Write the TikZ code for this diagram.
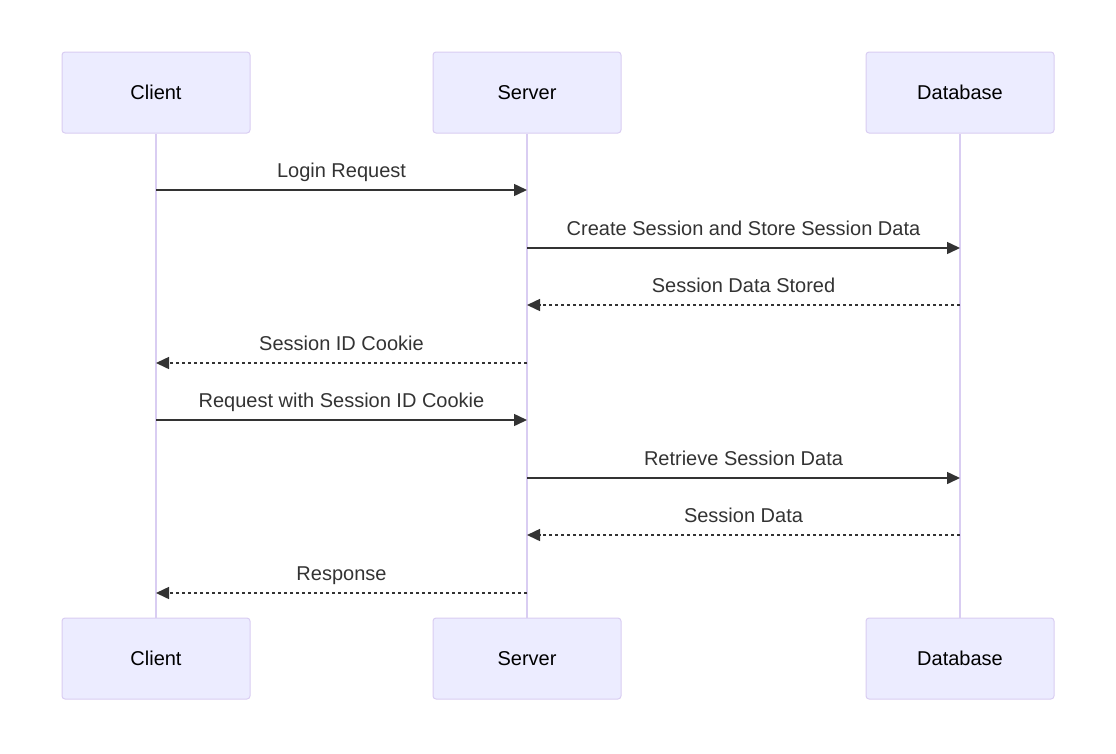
\documentclass[tikz,border=0pt]{standalone}
\usepackage{fontspec}
\setmainfont{Liberation Sans}
\usetikzlibrary{arrows.meta}
\definecolor{actfill}{HTML}{ECECFF}
\definecolor{actline}{HTML}{D9CDF2}
\definecolor{msg}{HTML}{333333}
\begin{document}
\begin{tikzpicture}[x=1pt,y=-1pt,
  actor/.style={draw=actline,fill=actfill,line width=1pt,rounded corners=3pt,minimum width=188pt,minimum height=81pt,inner sep=0pt,font=\fontsize{20}{24}\selectfont,text=black},
  life/.style={draw=actline,line width=2pt},
  sync/.style={draw=msg,line width=1.5pt,-{Triangle[length=13pt,width=12pt]}},
  reply/.style={sync,dash pattern=on 3pt off 3pt},
  lbl/.style={font=\fontsize{20}{24}\selectfont,text=msg,inner sep=0pt,anchor=base,yshift=13pt}]
\useasboundingbox (0,0) rectangle (1116,753);
\node[actor] (ct) at (156,92.5) {Client};
\node[actor] (st) at (527,92.5) {Server};
\node[actor] (dt) at (960,92.5) {Database};
\node[actor] (cb) at (156,658.5) {Client};
\node[actor] (sb) at (527,658.5) {Server};
\node[actor] (db) at (960,658.5) {Database};
\draw[life] (ct.south) -- (cb.north);
\draw[life] (st.south) -- (sb.north);
\draw[life] (dt.south) -- (db.north);
% messages
\coordinate (c1) at (156,190); \coordinate (s1) at (527,190);
\coordinate (s2) at (527,248); \coordinate (d2) at (960,248);
\coordinate (d3) at (960,305); \coordinate (s3) at (527,305);
\coordinate (s4) at (527,363); \coordinate (c4) at (156,363);
\coordinate (c5) at (156,420); \coordinate (s5) at (527,420);
\coordinate (s6) at (527,478); \coordinate (d6) at (960,478);
\coordinate (d7) at (960,535); \coordinate (s7) at (527,535);
\coordinate (s8) at (527,593); \coordinate (c8) at (156,593);
\draw[sync] (c1) -- (s1) node[lbl,midway] {Login Request};
\draw[sync] (s2) -- (d2) node[lbl,midway] {Create Session and Store Session Data};
\draw[reply] (d3) -- (s3) node[lbl,midway] {Session Data Stored};
\draw[reply] (s4) -- (c4) node[lbl,midway] {Session ID Cookie};
\draw[sync] (c5) -- (s5) node[lbl,midway] {Request with Session ID Cookie};
\draw[sync] (s6) -- (d6) node[lbl,midway] {Retrieve Session Data};
\draw[reply] (d7) -- (s7) node[lbl,midway] {Session Data};
\draw[reply] (s8) -- (c8) node[lbl,midway] {Response};
\end{tikzpicture}
\end{document}
